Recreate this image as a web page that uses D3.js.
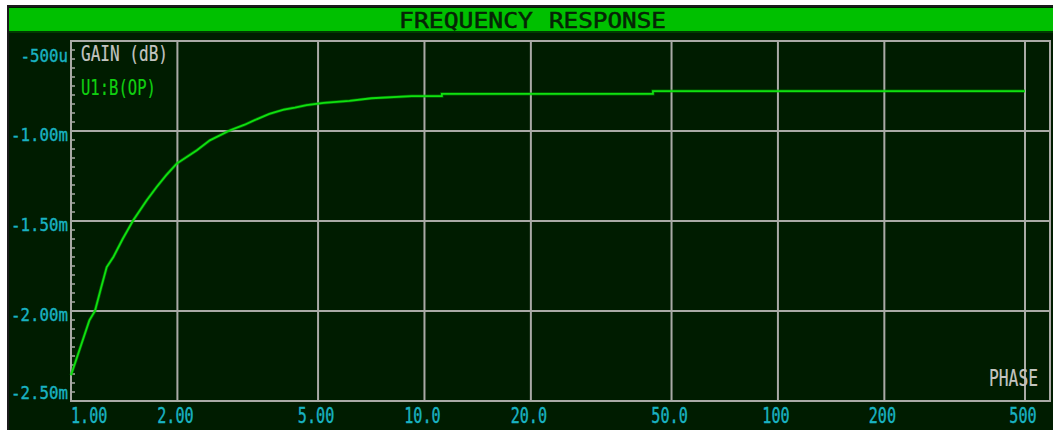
<!DOCTYPE html>
<html>
<head>
<meta charset="utf-8">
<script src="https://cdn.jsdelivr.net/npm/d3@7"></script>
<style>
html,body{margin:0;padding:0;background:#fff;}
svg{display:block;}
</style>
</head>
<body>
<script>
// ---- data (frequency, gain in milli-dB) ----
const freq = [1.00, 1.127, 1.169, 1.215, 1.262, 1.318, 1.40, 1.50, 1.638, 1.747, 1.86, 1.991, 2.266, 2.47, 2.82, 3.10, 3.35, 3.64, 3.80, 4.00, 4.30, 4.64, 5.19, 6.13, 7.08, 9.2, 11.2, 11.2, 44.3, 44.3, 500];
const gain = [-2.357, -2.052, -2.00, -1.875, -1.756, -1.70, -1.60, -1.496, -1.385, -1.311, -1.245, -1.181, -1.108, -1.052, -0.996, -0.965, -0.935, -0.905, -0.894, -0.881, -0.870, -0.856, -0.844, -0.833, -0.818, -0.806, -0.806, -0.794, -0.794, -0.779, -0.779];

const xTickValues = [1, 2, 5, 10, 20, 50, 100, 200, 500];
const xTickLabels = ["1.00", "2.00", "5.00", "10.0", "20.0", "50.0", "100", "200", "500"];
const yTickValues = [-2.5, -2.0, -1.5, -1.0, -0.5];
const yTickLabels = ["-2.50m", "-2.00m", "-1.50m", "-1.00m", "-500u"];
const title = ["FREQUENCY", "RESPONSE"];
const yTitle = "GAIN (dB)";
const seriesName = "U1:B(OP)";
const xTitle = "PHASE";

// ---- layout ----
const W = 1053, H = 430;
const L = 71, R = 1050, T = 41, B = 401;
const FONT = "'DejaVu Sans Mono', 'Liberation Mono', monospace";
const BG = "#001c00", GRID = "#a9aaa6", CYAN = "#19b3c2", GREY = "#c4c4c0";

const svg = d3.select("body").append("svg").attr("width", W).attr("height", H);

svg.append("rect").attr("width", W).attr("height", H).attr("fill", "#ffffff");
// window frame
svg.append("rect").attr("x", 8).attr("y", 6).attr("width", W + 20).attr("height", H + 20)
  .attr("fill", BG).attr("stroke", "#1a1a1a").attr("stroke-width", 2);
// title bar
svg.append("rect").attr("x", 9).attr("y", 8).attr("width", W).attr("height", 23).attr("fill", "#00c000");
svg.append("rect").attr("x", 9).attr("y", 31).attr("width", W).attr("height", 2).attr("fill", "#003a00");

const x = d3.scaleLog().domain([1, 500]).range([L, 1025]);
const y = d3.scaleLinear().domain([-2.5, -0.5]).range([B, T]);

function ptext(str, px, base, w, size, color, anchor, sw) {
  let left = px;
  if (anchor === "middle") left = px - w / 2;
  if (anchor === "end") left = px - w;
  const t = svg.append("text").attr("x", left).attr("y", base)
    .attr("font-family", FONT).attr("font-size", size).attr("fill", color)
    .attr("textLength", w).attr("lengthAdjust", "spacingAndGlyphs").text(str);
  if (sw) t.attr("stroke", color).attr("stroke-width", sw);
  return t;
}

// title
ptext(title[0], 399, 28, 134, 20.5, "#062406", "start", 0.5);
ptext(title[1], 549, 28, 117, 20.5, "#062406", "start", 0.5);

// grid
const g = svg.append("g");
g.selectAll("line.vx").data(xTickValues.slice(1)).join("line")
  .attr("x1", d => x(d)).attr("x2", d => x(d)).attr("y1", T).attr("y2", B)
  .attr("stroke", GRID).attr("stroke-width", 2);
g.selectAll("line.hy").data(yTickValues.slice(1, -1)).join("line")
  .attr("x1", L).attr("x2", R).attr("y1", d => y(d)).attr("y2", d => y(d))
  .attr("stroke", GRID).attr("stroke-width", 2);
// minor ticks on left axis (every 0.05m)
const minor = d3.range(1, 40).map(i => -2.5 + i * 0.05);
g.selectAll("line.mt").data(minor).join("line")
  .attr("x1", L).attr("x2", L + 4).attr("y1", d => y(d)).attr("y2", d => y(d))
  .attr("stroke", GRID).attr("stroke-width", 1.5);
// plot frame
g.append("rect").attr("x", L).attr("y", T).attr("width", R - L).attr("height", B - T)
  .attr("fill", "none").attr("stroke", GRID).attr("stroke-width", 2);

// curve
const pts = freq.map((f, i) => [f, gain[i]]);
const line = d3.line().x(d => x(d[0])).y(d => y(d[1]));
svg.append("path").datum(pts).attr("d", line)
  .attr("fill", "none").attr("stroke", "#00a800").attr("stroke-width", 3.2).attr("stroke-opacity", 0.5);
svg.append("path").datum(pts).attr("d", line)
  .attr("fill", "none").attr("stroke", "#10e010").attr("stroke-width", 1.8);

// x tick labels
xTickValues.forEach((v, i) => {
  const s = xTickLabels[i];
  const w = s.length * 9.1;
  const c = x(v) - 2;
  const left = Math.max(L, c - w / 2);
  ptext(s, left, 423, w, 20.5, CYAN, "start", 0.4);
});
// y tick labels
yTickValues.forEach((v, i) => {
  const s = yTickLabels[i];
  const w = s.length * 9.5;
  const c = Math.min(B - 9, Math.max(T + 14, y(v) + 3));
  ptext(s, 68, c + 6.7, w, 18.5, CYAN, "end", 0.4);
});

// labels
ptext(yTitle, 81, 61, 87, 21, GREY, "start", 0.2);
ptext(seriesName, 81, 95, 75, 21, "#10d010", "start", 0.2);
ptext(xTitle, 989, 386, 49, 23, GREY, "start", 0.2);
</script>
</body>
</html>
